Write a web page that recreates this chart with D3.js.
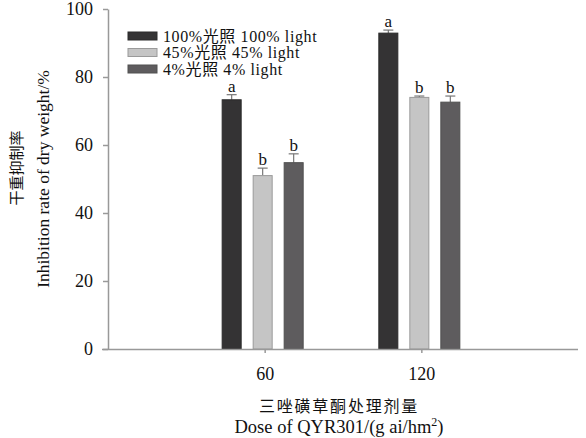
<!DOCTYPE html>
<html>
<head>
<meta charset="utf-8">
<script src="https://cdn.jsdelivr.net/npm/d3@7"></script>
<style>
    body { margin: 0; background: #fff; }
    text { font-family: "Liberation Serif", "Noto Sans CJK SC", serif; fill: #111; }
</style>
</head>
<body>
<script>
const doses = ["60", "120"];
const series = ["100%光照 100% light", "45%光照 45% light", "4%光照 4% light"];
const values = [
    [73.3, 51.0, 54.8],
    [92.9, 74.0, 72.6],
];
const errors = [
    [1.5, 2.2, 2.6],
    [0.9, 0.4, 1.8],
];
const letters = [
    ["a", "b", "b"],
    ["a", "b", "b"],
];
const yTicks = [0, 20, 40, 60, 80, 100];

const colors = ["#343334", "#c5c5c5", "#5e5c5e"];
const strokes = ["#2a2a2a", "#9a9a9a", "#505050"];

const dimensions = {
    width: 586,
    height: 438,
    axisLeft: 108,
    axisRight: 578,
    top: 9,
    bottom: 349,
};

const svg = d3.select("body").append("svg")
    .attr("width", dimensions.width)
    .attr("height", dimensions.height);

const xScale = d3.scalePoint()
    .domain(["0", ...doses, "180"])
    .range([dimensions.axisLeft, dimensions.axisRight]);

const inner = d3.scaleBand()
    .domain(series)
    .range([-46.5, 46.5])
    .paddingInner(0.387)
    .paddingOuter(0.1935);

const yScale = d3.scaleLinear()
    .domain([0, 100])
    .range([dimensions.bottom, dimensions.top]);

// bars
doses.forEach((dose, i) => {
    const g = svg.append("g").attr("transform", `translate(${xScale(dose) - 2},0)`);
    series.forEach((s, j) => {
        const x = inner(s);
        const w = inner.bandwidth();
        const v = values[i][j];
        const e = errors[i][j];
        const cx = x + w / 2;
        g.append("line")
            .attr("x1", cx).attr("x2", cx)
            .attr("y1", yScale(v)).attr("y2", yScale(v + e))
            .attr("stroke", "#777").attr("stroke-width", 1.2);
        g.append("line")
            .attr("x1", cx - 5).attr("x2", cx + 5)
            .attr("y1", yScale(v + e)).attr("y2", yScale(v + e))
            .attr("stroke", "#777").attr("stroke-width", 1.2);
        g.append("rect")
            .attr("x", x).attr("width", w)
            .attr("y", yScale(v)).attr("height", yScale(0) - yScale(v))
            .attr("fill", colors[j])
            .attr("stroke", strokes[j]).attr("stroke-width", 1);
        g.append("text")
            .attr("x", cx).attr("y", yScale(v + e) - 3)
            .attr("text-anchor", "middle")
            .attr("font-size", 17)
            .text(letters[i][j]);
    });
});

// y axis
const yAxis = svg.append("g")
    .attr("transform", `translate(${dimensions.axisLeft},0)`)
    .call(d3.axisLeft(yScale).tickValues(yTicks).tickSize(5).tickPadding(10).tickSizeOuter(0));
yAxis.selectAll("text").attr("font-size", 18).attr("font-family", "Liberation Serif").attr("fill", "#111");
yAxis.selectAll("line, path").attr("stroke", "#999").attr("stroke-width", 1.5);

// x axis
const xAxis = svg.append("g")
    .attr("transform", `translate(0,${dimensions.bottom})`)
    .call(d3.axisBottom(xScale).tickValues(doses).tickSize(4).tickPadding(14).tickSizeOuter(0));
xAxis.selectAll("text").attr("font-size", 18).attr("font-family", "Liberation Serif").attr("fill", "#111");
xAxis.selectAll("line, path").attr("stroke", "#999").attr("stroke-width", 1.5);
xAxis.select(".domain").attr("d", `M${dimensions.axisLeft - 6},0.5H${dimensions.axisRight}`);

// axis titles
svg.append("text")
    .attr("transform", "translate(22,168) rotate(-90)")
    .attr("text-anchor", "middle")
    .attr("font-size", 15)
    .text("干重抑制率");
svg.append("text")
    .attr("transform", "translate(49,179) rotate(-90)")
    .attr("text-anchor", "middle")
    .attr("font-size", 17.5)
    .text("Inhibition rate of dry weight/%");

svg.append("text")
    .attr("x", 339).attr("y", 412)
    .attr("text-anchor", "middle")
    .attr("font-size", 16)
    .attr("letter-spacing", 1.8)
    .text("三唑磺草酮处理剂量");
const xt = svg.append("text")
    .attr("x", 339).attr("y", 433)
    .attr("text-anchor", "middle")
    .attr("font-size", 18.5);
xt.append("tspan").text("Dose of QYR301/(g ai/hm");
xt.append("tspan").attr("font-size", 12).attr("dy", -7).text("2");
xt.append("tspan").attr("dy", 7).text(")");

// legend
const legend = svg.append("g").attr("transform", "translate(128,36)");
series.forEach((s, j) => {
    const row = legend.append("g").attr("transform", `translate(0,${j * 16.5})`);
    row.append("rect")
        .attr("x", 0).attr("y", -4).attr("width", 29).attr("height", 8)
        .attr("fill", colors[j]).attr("stroke", strokes[j]);
    row.append("text")
        .attr("x", 35).attr("y", 5.5)
        .attr("font-size", 16)
        .attr("letter-spacing", 0.6)
        .text(s);
});
</script>
</body>
</html>
